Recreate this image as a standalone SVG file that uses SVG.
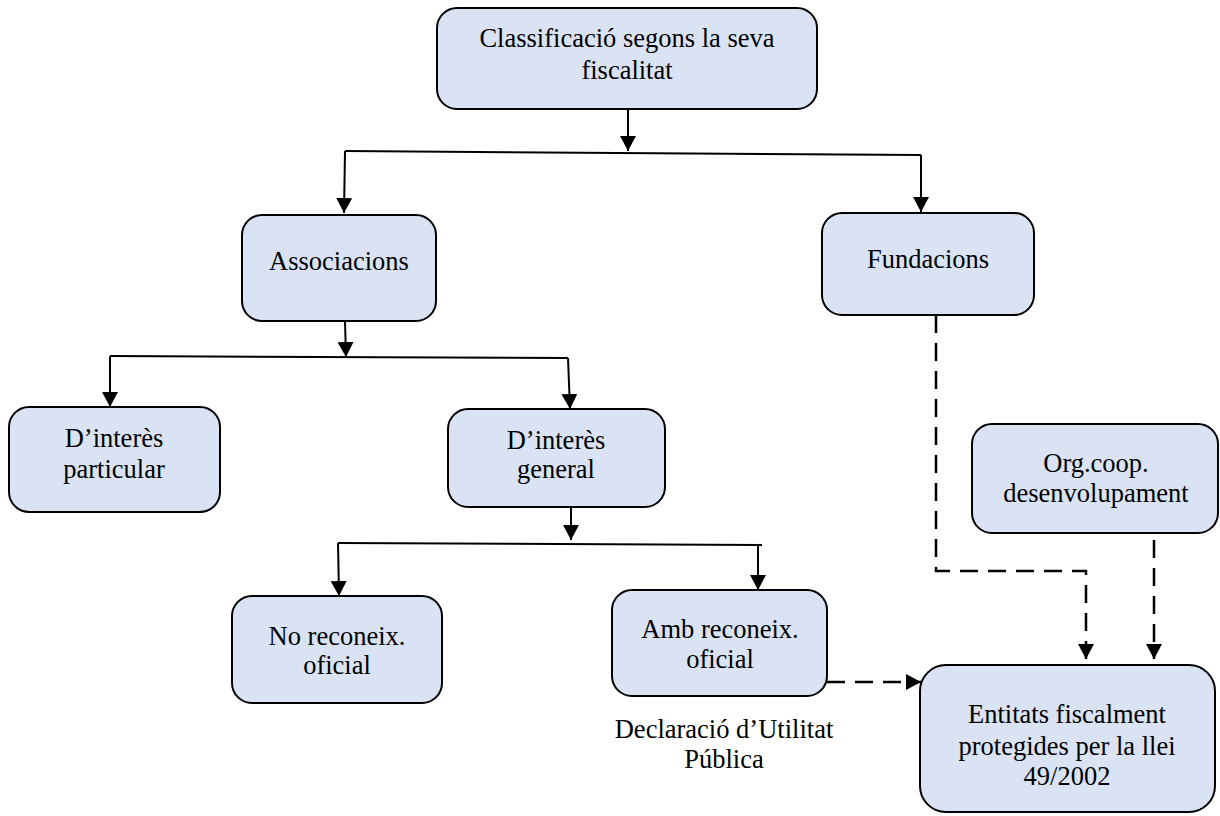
<svg xmlns="http://www.w3.org/2000/svg" width="1220" height="816" viewBox="0 0 1220 816">
<style>
.box{fill:#dae3f3;stroke:#000;stroke-width:2}
.t{font-family:"Liberation Serif","Times New Roman",serif;font-size:26.5px;fill:#000;text-anchor:middle}
.c{fill:none;stroke:#000;stroke-width:2}
.d{fill:none;stroke:#000;stroke-width:2.5;stroke-dasharray:18 10}
</style>
<defs>
<marker id="ah" markerUnits="userSpaceOnUse" markerWidth="16" markerHeight="16" refX="15" refY="8" orient="auto">
<path d="M0,0 L15,8 L0,16 z" fill="#000"/>
</marker>
</defs>
<rect width="1220" height="816" fill="#fff"/>
<g id="connectors">
<path class="c" d="M628,109 L628,151" marker-end="url(#ah)"/>
<path class="c" d="M345,151 L921,155"/>
<path class="c" d="M345,151 L344,213" marker-end="url(#ah)"/>
<path class="c" d="M921,155 L921,212" marker-end="url(#ah)"/>
<path class="c" d="M345,321 L346,357" marker-end="url(#ah)"/>
<path class="c" d="M110,356 L568,358"/>
<path class="c" d="M110,356 L110,407" marker-end="url(#ah)"/>
<path class="c" d="M568,358 L570,409" marker-end="url(#ah)"/>
<path class="c" d="M571,507 L571,540" marker-end="url(#ah)"/>
<path class="c" d="M338,543 L762,545"/>
<path class="c" d="M338,543 L339,596" marker-end="url(#ah)"/>
<path class="c" d="M758,545 L758,590" marker-end="url(#ah)"/>
<path class="d" d="M827,682 L921,682" marker-end="url(#ah)"/>
<path class="d" d="M936,315 L936,571 L1086,571 L1086,659" marker-end="url(#ah)"/>
<path class="d" d="M1154,540 L1154,659" marker-end="url(#ah)"/>
</g>
<g id="n-top">
<rect class="box" x="437" y="8" width="380" height="101" rx="20"/>
<text class="t" x="627" y="47">Classificació segons la seva</text>
<text class="t" x="627" y="79">fiscalitat</text>
</g>
<g id="n-associacions">
<rect class="box" x="242" y="215" width="194" height="106" rx="20"/>
<text class="t" x="339" y="270">Associacions</text>
</g>
<g id="n-fundacions">
<rect class="box" x="822" y="213" width="212" height="102" rx="20"/>
<text class="t" x="928" y="268">Fundacions</text>
</g>
<g id="n-particular">
<rect class="box" x="9" y="407" width="211" height="105" rx="20"/>
<text class="t" x="114" y="447">D’interès</text>
<text class="t" x="114" y="478">particular</text>
</g>
<g id="n-general">
<rect class="box" x="448" y="409" width="217" height="98" rx="20"/>
<text class="t" x="556" y="449">D’interès</text>
<text class="t" x="556" y="478">general</text>
</g>
<g id="n-org">
<rect class="box" x="972" y="424" width="246" height="109" rx="20"/>
<text class="t" x="1096" y="472">Org.coop.</text>
<text class="t" x="1096" y="502">desenvolupament</text>
</g>
<g id="n-noreconeix">
<rect class="box" x="232" y="596" width="210" height="107" rx="20"/>
<text class="t" x="337" y="645">No reconeix.</text>
<text class="t" x="337" y="674">oficial</text>
</g>
<g id="n-amb">
<rect class="box" x="612" y="590" width="215" height="106" rx="20"/>
<text class="t" x="720" y="638">Amb reconeix.</text>
<text class="t" x="720" y="668">oficial</text>
</g>
<g id="n-declaracio">
<text class="t" x="724" y="738">Declaració d’Utilitat</text>
<text class="t" x="724" y="768">Pública</text>
</g>
<g id="n-entitats">
<rect class="box" x="920" y="665" width="295" height="147" rx="26"/>
<text class="t" x="1067" y="723">Entitats fiscalment</text>
<text class="t" x="1067" y="755">protegides per la llei</text>
<text class="t" x="1067" y="785">49/2002</text>
</g>
</svg>
